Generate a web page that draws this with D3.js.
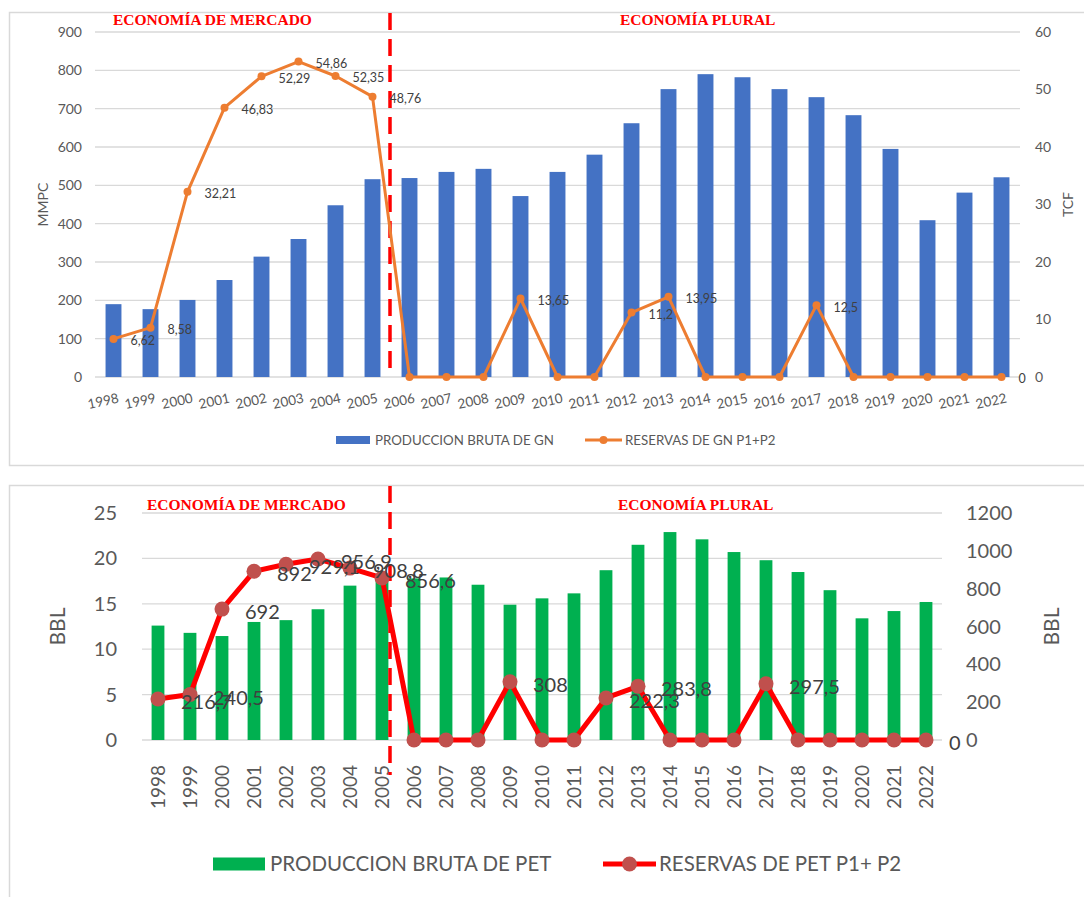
<!DOCTYPE html>
<html>
<head>
<meta charset="utf-8">
<script src="https://cdn.jsdelivr.net/npm/d3@7"></script>
<style>
  body { margin: 0; background: #fff; }
  svg { display: block; }
</style>
</head>
<body>
<div class="center"></div>
<script>

// años (etiquetas del eje X)
var years = ["1998","1999","2000","2001","2002","2003","2004","2005","2006","2007","2008","2009","2010",
             "2011","2012","2013","2014","2015","2016","2017","2018","2019","2020","2021","2022"];

// gas natural
var gnProduccion = [190,177,201,253,314,360,448,516,519,535,543,472,535,580,662,751,790,782,751,730,683,595,409,481,521];
var gnReservas   = [6.62,8.58,32.21,46.83,52.29,54.86,52.35,48.76,0,0,0,13.65,0,0,11.2,13.95,0,0,0,12.5,0,0,0,0,0];
var gnTicksL = [0,100,200,300,400,500,600,700,800,900];
var gnTicksR = [0,10,20,30,40,50,60];

// petroleo
var petProduccion = [12.6,11.8,11.45,13.0,13.2,14.4,17.0,18.1,17.8,17.9,17.1,14.9,15.6,16.15,18.7,21.5,22.9,22.1,20.7,19.8,18.5,16.5,13.4,14.2,15.2];
var petReservas   = [216.7,240.5,692,892,929.1,956.9,908.8,856.6,0,0,0,308,0,0,222.3,283.8,0,0,0,297.5,0,0,0,0,0];
var petTicksL = [0,5,10,15,20,25];
var petTicksR = [0,200,400,600,800,1000,1200];

var W = 1084, H = 897;
var svg = d3.select(".center").append("svg").attr("width", W).attr("height", H);

var font = "Lato, 'Open Sans', sans-serif";
var serif = "'Liberation Serif', 'Times New Roman', serif";

function fmt(v) { return String(v).replace(".", ","); }

function combo(opt) {
  var g = svg.append("g");

  // marco
  g.append("rect")
    .attr("x", 9.5).attr("y", opt.frameTop + 0.5)
    .attr("width", 1200).attr("height", opt.frameH)
    .attr("fill", "none").attr("stroke", "#d9d9d9").attr("stroke-width", 1.5);

  var x = d3.scaleBand().domain(years)
    .range([opt.left, opt.right])
    .paddingInner(opt.pad).paddingOuter(opt.pad / 2);
  var yL = d3.scaleLinear().domain([0, opt.ticksL[opt.ticksL.length - 1]]).range([opt.bottom, opt.top]);
  var yR = d3.scaleLinear().domain([0, opt.ticksR[opt.ticksR.length - 1]]).range([opt.bottom, opt.top]);
  var cx = function(d) { return x(d) + x.bandwidth() / 2; };

  // grilla
  g.selectAll(".grid").data(opt.ticksL).enter().append("line")
    .attr("x1", opt.left).attr("x2", opt.right)
    .attr("y1", function(d) { return yL(d); }).attr("y2", function(d) { return yL(d); })
    .attr("stroke", "#d9d9d9").attr("stroke-width", 1.3);

  // ticks
  g.selectAll(".tl").data(opt.ticksL).enter().append("text")
    .attr("x", opt.left - opt.tickGap).attr("y", function(d) { return yL(d); })
    .attr("dy", "0.35em").attr("text-anchor", "end")
    .attr("font-family", font).attr("font-size", opt.tickSize).attr("fill", "#595959")
    .text(function(d) { return d; });
  g.selectAll(".tr").data(opt.ticksR).enter().append("text")
    .attr("x", opt.rightLabelX).attr("y", function(d) { return yR(d); })
    .attr("dy", "0.35em").attr("text-anchor", "start")
    .attr("font-family", font).attr("font-size", opt.tickSize).attr("fill", "#595959")
    .text(function(d) { return d; });

  // titulos de ejes
  g.append("text")
    .attr("transform", "translate(" + opt.titleLX + "," + (opt.top + opt.bottom) / 2 + ") rotate(-90)")
    .attr("dy", "0.35em").attr("text-anchor", "middle")
    .attr("font-family", font).attr("font-size", opt.titleSize).attr("fill", "#595959")
    .text(opt.titleL);
  g.append("text")
    .attr("transform", "translate(" + opt.titleRX + "," + (opt.top + opt.bottom) / 2 + ") rotate(-90)")
    .attr("dy", "0.35em").attr("text-anchor", "middle")
    .attr("font-family", font).attr("font-size", opt.titleSize).attr("fill", "#595959")
    .text(opt.titleR);

  // barras
  g.selectAll(".bar").data(opt.bars).enter().append("rect")
    .attr("x", function(d, i) { return x(years[i]); })
    .attr("y", function(d) { return yL(d); })
    .attr("width", x.bandwidth())
    .attr("height", function(d) { return opt.bottom - yL(d); })
    .attr("fill", opt.barColor);

  // etiquetas eje x
  g.selectAll(".xl").data(years).enter().append("text")
    .attr("transform", function(d) {
      if (opt.xRot === -90) return "translate(" + cx(d) + "," + opt.xLabelY + ") rotate(-90)";
      return "translate(" + (cx(d) + 4) + "," + opt.xLabelY + ") rotate(" + opt.xRot + ")";
    })
    .attr("dy", opt.xRot === -90 ? "0.35em" : "0.71em")
    .attr("text-anchor", "end")
    .attr("font-family", font).attr("font-size", opt.xSize).attr("fill", "#595959")
    .text(function(d) { return d; });

  // linea divisoria
  g.append("line")
    .attr("x1", opt.divX).attr("x2", opt.divX)
    .attr("y1", opt.frameTop + 1).attr("y2", opt.divBottom)
    .attr("stroke", "#ff0000").attr("stroke-width", 3.5)
    .attr("stroke-dasharray", "17,9");

  // linea de reservas
  var line = d3.line()
    .x(function(d, i) { return cx(years[i]); })
    .y(function(d) { return yR(d); });
  g.append("path").datum(opt.line)
    .attr("d", line).attr("fill", "none")
    .attr("stroke", opt.lineColor).attr("stroke-width", opt.lineW)
    .attr("stroke-linejoin", "round");
  g.selectAll(".pt").data(opt.line).enter().append("circle")
    .attr("cx", function(d, i) { return cx(years[i]); })
    .attr("cy", function(d) { return yR(d); })
    .attr("r", opt.markerR).attr("fill", opt.markerColor);

  // etiquetas de datos (los ceros no llevan etiqueta, salvo el ultimo punto)
  var pts = opt.line.map(function(v, i) { return {year: years[i], v: v, i: i}; })
    .filter(function(d) { return d.v !== 0 || d.i === years.length - 1; });
  g.selectAll(".lbl").data(pts).enter().append("text")
    .attr("x", function(d) { return cx(d.year) + opt.lblDx; })
    .attr("y", function(d) { return yR(d.v) + opt.lblDy; })
    .attr("dy", "0.35em")
    .attr("font-family", font).attr("font-size", opt.lblSize).attr("fill", "#404040")
    .text(function(d) { return fmt(d.v); });

  // textos de periodo
  g.append("text").attr("x", opt.t1X).attr("y", opt.tY).attr("dy", "0.35em")
    .attr("font-family", serif).attr("font-weight", "bold").attr("font-size", 15.5)
    .attr("fill", "#ff0000").text("ECONOMÍA DE MERCADO");
  g.append("text").attr("x", opt.t2X).attr("y", opt.tY).attr("dy", "0.35em")
    .attr("font-family", serif).attr("font-weight", "bold").attr("font-size", 15.5)
    .attr("fill", "#ff0000").text("ECONOMÍA PLURAL");

  // leyenda
  var lg = g.append("g");
  lg.append("rect").attr("x", opt.lgX).attr("y", opt.lgY - opt.lgRectH / 2)
    .attr("width", opt.lgRectW).attr("height", opt.lgRectH).attr("fill", opt.barColor);
  lg.append("text").attr("x", opt.lgX + opt.lgRectW + 5).attr("y", opt.lgY).attr("dy", "0.35em")
    .attr("font-family", font).attr("font-size", opt.lgSize).attr("fill", "#595959")
    .text(opt.lgBar);
  lg.append("line").attr("x1", opt.lg2X).attr("x2", opt.lg2X + opt.lgLineW)
    .attr("y1", opt.lgY).attr("y2", opt.lgY)
    .attr("stroke", opt.lineColor).attr("stroke-width", opt.lineW);
  lg.append("circle").attr("cx", opt.lg2X + opt.lgLineW / 2).attr("cy", opt.lgY)
    .attr("r", opt.markerR).attr("fill", opt.markerColor);
  lg.append("text").attr("x", opt.lg2X + opt.lgLineW + 3).attr("y", opt.lgY).attr("dy", "0.35em")
    .attr("font-family", font).attr("font-size", opt.lgSize).attr("fill", "#595959")
    .text(opt.lgLine);
}

combo({
  frameTop: 12, frameH: 453,
  left: 95, right: 1020, top: 32, bottom: 377, pad: 0.57,
  ticksL: gnTicksL, ticksR: gnTicksR, tickSize: 14, tickGap: 13, rightLabelX: 1035,
  titleL: "MMPC", titleR: "TCF", titleLX: 43, titleRX: 1068, titleSize: 14,
  bars: gnProduccion, barColor: "#4472c4",
  line: gnReservas, lineColor: "#ed7d31", markerColor: "#ed7d31", lineW: 3, markerR: 4,
  lblDx: 17, lblDy: 2, lblSize: 12.5,
  xRot: -12, xLabelY: 393, xSize: 13.5,
  divX: 390, divBottom: 377,
  t1X: 113, t2X: 620, tY: 20,
  lgX: 336, lgY: 440, lgRectW: 34, lgRectH: 8, lgSize: 13.3,
  lg2X: 585, lgLineW: 37,
  lgBar: "PRODUCCION BRUTA DE GN", lgLine: "RESERVAS DE GN P1+P2"
});

combo({
  frameTop: 485, frameH: 500,
  left: 142, right: 942, top: 513, bottom: 740, pad: 0.6,
  ticksL: petTicksL, ticksR: petTicksR, tickSize: 20, tickGap: 25, rightLabelX: 966,
  titleL: "BBL", titleR: "BBL", titleLX: 58, titleRX: 1052, titleSize: 21,
  bars: petProduccion, barColor: "#00b050",
  line: petReservas, lineColor: "#ff0000", markerColor: "#c0504d", lineW: 5, markerR: 7.5,
  lblDx: 23, lblDy: 3, lblSize: 20,
  xRot: -90, xLabelY: 765, xSize: 19,
  divX: 390, divBottom: 775,
  t1X: 147, t2X: 618, tY: 505,
  lgX: 213, lgY: 864, lgRectW: 52, lgRectH: 13, lgSize: 20.5,
  lg2X: 603, lgLineW: 53,
  lgBar: "PRODUCCION BRUTA DE PET", lgLine: "RESERVAS DE PET P1+ P2"
});

</script>
</body>
</html>
